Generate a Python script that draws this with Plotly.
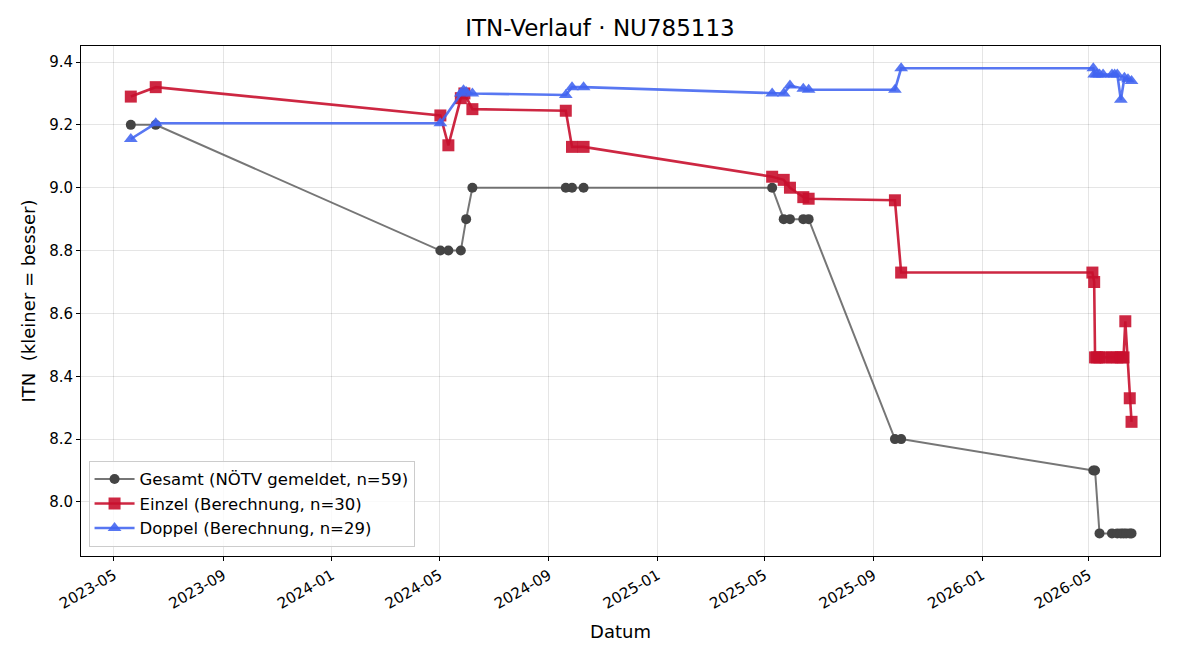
import plotly.graph_objects as go

# ---- data ----
gesamt_dates = ["2023-05-20", "2023-06-17",
                "2024-05-02", "2024-05-11", "2024-05-25", "2024-05-31", "2024-06-07",
                "2024-09-20", "2024-09-27", "2024-10-10",
                "2025-05-10", "2025-05-23", "2025-05-30", "2025-06-14", "2025-06-20",
                "2025-09-25", "2025-10-02",
                "2026-05-06", "2026-05-08", "2026-05-13", "2026-05-27", "2026-06-02",
                "2026-06-06", "2026-06-09", "2026-06-12", "2026-06-16", "2026-06-18"]
gesamt_vals = [9.2, 9.2,
               8.8, 8.8, 8.8, 8.9, 9.0,
               9.0, 9.0, 9.0,
               9.0, 8.9, 8.9, 8.9, 8.9,
               8.2, 8.2,
               8.1, 8.1, 7.9, 7.9, 7.9,
               7.9, 7.9, 7.9, 7.9, 7.9]

einzel_dates = ["2023-05-20", "2023-06-17",
                "2024-05-02", "2024-05-11", "2024-05-25", "2024-05-29", "2024-06-07",
                "2024-09-20", "2024-09-27", "2024-10-10",
                "2025-05-10", "2025-05-23", "2025-05-30", "2025-06-14", "2025-06-20",
                "2025-09-25", "2025-10-02",
                "2026-05-05", "2026-05-07",
                "2026-05-08", "2026-05-10", "2026-05-13", "2026-05-20", "2026-05-27",
                "2026-06-02", "2026-06-06", "2026-06-09",
                "2026-06-11", "2026-06-16", "2026-06-18"]
einzel_vals = [9.29, 9.32,
               9.23, 9.135, 9.285, 9.30, 9.25,
               9.245, 9.13, 9.13,
               9.035, 9.025, 9.0, 8.97, 8.965,
               8.96, 8.73,
               8.73, 8.70,
               8.46, 8.46, 8.46, 8.46, 8.46,
               8.46, 8.46, 8.46,
               8.575, 8.33, 8.255]

doppel_dates = ["2023-05-20", "2023-06-17",
                "2024-05-02", "2024-05-25", "2024-05-28", "2024-05-31", "2024-06-07",
                "2024-09-20", "2024-09-27", "2024-10-10",
                "2025-05-10", "2025-05-23", "2025-05-30", "2025-06-14", "2025-06-20",
                "2025-09-25", "2025-10-02",
                "2026-05-06", "2026-05-07", "2026-05-10", "2026-05-13", "2026-05-17",
                "2026-05-27", "2026-05-30", "2026-06-02", "2026-06-06", "2026-06-10",
                "2026-06-14", "2026-06-18"]
doppel_vals = [9.155, 9.205,
               9.205, 9.30, 9.31, 9.305, 9.30,
               9.295, 9.32, 9.32,
               9.30, 9.30, 9.325, 9.315, 9.312,
               9.312, 9.38,
               9.38, 9.36, 9.36, 9.36, 9.36,
               9.36, 9.36, 9.36, 9.28, 9.35,
               9.345, 9.34]

legend_names = ["Gesamt (NÖTV gemeldet, n=59)",
                "Einzel (Berechnung, n=30)",
                "Doppel (Berechnung, n=29)"]

FONT = "DejaVu Sans"

fig = go.Figure()
fig.add_trace(go.Scatter(
    x=gesamt_dates, y=gesamt_vals, mode="lines+markers", name=legend_names[0],
    line=dict(color="rgba(80,80,80,0.78)", width=2),
    marker=dict(symbol="circle", size=10, color="#444444"),
))
fig.add_trace(go.Scatter(
    x=einzel_dates, y=einzel_vals, mode="lines+markers", name=legend_names[1],
    line=dict(color="rgba(200,16,46,0.9)", width=2.6),
    marker=dict(symbol="square", size=12, color="rgba(200,16,46,0.9)"),
))
fig.add_trace(go.Scatter(
    x=doppel_dates, y=doppel_vals, mode="lines+markers", name=legend_names[2],
    line=dict(color="rgba(65,100,240,0.88)", width=2.6),
    marker=dict(symbol="triangle-up", size=12, color="rgba(65,100,240,0.88)"),
))

axis_common = dict(
    showline=True, linecolor="black", linewidth=1, mirror=True,
    ticks="outside", ticklen=4, tickcolor="black",
    showgrid=True, gridcolor="rgba(0,0,0,0.1)", gridwidth=1,
    zeroline=False,
    tickfont=dict(family=FONT, size=15, color="black"),
)

fig.update_layout(
    width=1200, height=660,
    paper_bgcolor="white", plot_bgcolor="white",
    margin=dict(l=81, r=40, t=46, b=104),
    title=dict(text="ITN-Verlauf · NU785113", x=0.5, xanchor="center",
               y=0.958, yanchor="middle",
               font=dict(family=FONT, size=23, color="black")),
    font=dict(family=FONT, color="black"),
    xaxis=dict(
        **axis_common,
        type="date",
        range=["2023-03-25", "2026-07-20"],
        tick0="2023-05-01", dtick="M4", tickformat="%Y-%m",
        tickangle=-30,
        title=dict(text="Datum", font=dict(family=FONT, size=18, color="black"), standoff=13),
    ),
    yaxis=dict(
        **axis_common,
        range=[7.828, 9.451],
        tick0=8.0, dtick=0.2, tickformat=".1f",
        title=dict(text="ITN  (kleiner = besser)", font=dict(family=FONT, size=18, color="black"), standoff=8),
    ),
    legend=dict(
        x=0.007, y=0.018, xanchor="left", yanchor="bottom",
        bgcolor="rgba(255,255,255,0.8)", bordercolor="#cccccc", borderwidth=1,
        font=dict(family=FONT, size=16.5, color="black"),
        tracegroupgap=2, itemwidth=40,
    ),
    showlegend=True,
)

fig.write_html("out.html")
